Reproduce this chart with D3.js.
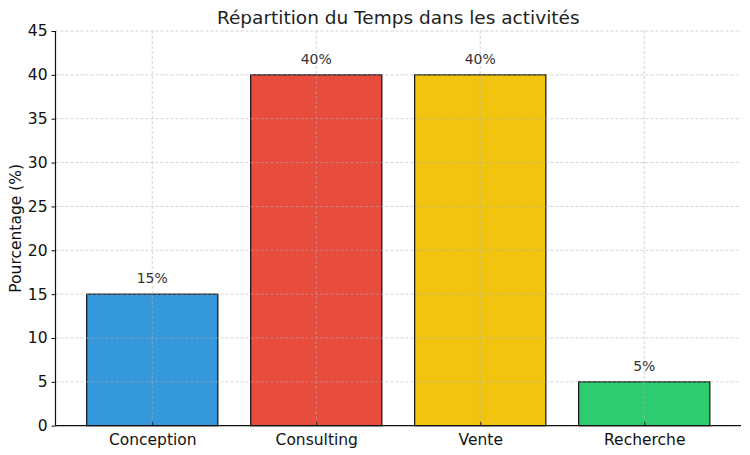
<!DOCTYPE html>
<html lang="fr">
<head>
<meta charset="UTF-8">
<title>Répartition du Temps</title>
<script src="https://cdn.jsdelivr.net/npm/d3@7"></script>
<style>
  body { margin: 0; background: #fff; }
  svg { font-family: "DejaVu Sans", sans-serif; }
</style>
</head>
<body>
<svg id="chart" width="750" height="455"></svg>
<script>
// data
const categories = ["Conception", "Consulting", "Vente", "Recherche"];
const values = [15, 40, 40, 5];
const colors = ["#3498db", "#e74c3c", "#f1c40f", "#2ecc71"];
const yTicks = [0, 5, 10, 15, 20, 25, 30, 35, 40, 45];

const svg = d3.select("#chart");
const mLeft = 55.5, mRight = 741, mTop = 31, mBottom = 425.7;

let x = d3.scaleLinear().domain([-0.59, 3.59]).range([mLeft, mRight]);
let y = d3.scaleLinear().domain([0, 45]).range([mBottom, mTop]);
const barW = x(0.8) - x(0);

// bars
svg.append("g").selectAll("rect").data(values)
  .enter().append("rect")
  .attr("x", (d, i) => x(i) - barW / 2)
  .attr("y", d => y(d))
  .attr("width", barW)
  .attr("height", d => y(0) - y(d))
  .attr("fill", (d, i) => colors[i])
  .attr("stroke", "#111")
  .attr("stroke-width", 1.2);

// grid on top of the bars
let grid = svg.append("g").attr("stroke", "#b0b0b0").attr("stroke-opacity", 0.7)
  .attr("stroke-width", 0.8).attr("stroke-dasharray", "3,2");
grid.selectAll(".h").data(yTicks).enter().append("line")
  .attr("x1", mLeft).attr("x2", mRight)
  .attr("y1", d => y(d)).attr("y2", d => y(d));
grid.selectAll(".v").data(categories).enter().append("line")
  .attr("x1", (d, i) => x(i)).attr("x2", (d, i) => x(i))
  .attr("y1", mTop).attr("y2", mBottom);

// value labels
svg.append("g").selectAll("text").data(values)
  .enter().append("text")
  .attr("x", (d, i) => x(i))
  .attr("y", d => y(d + 1) - 2)
  .attr("text-anchor", "middle")
  .attr("font-size", 14)
  .attr("fill", "#333")
  .text(d => d + "%");

// axes
let yaxis = d3.axisLeft(y).tickValues(yTicks).tickSize(4).tickPadding(4);
let ya = svg.append("g").attr("transform", `translate(${mLeft},0)`).call(yaxis);
ya.selectAll("text").attr("font-size", 15.5).attr("fill", "#111").attr("font-family", "DejaVu Sans");
ya.select(".domain").attr("d", `M0,${mTop}V${mBottom}`).attr("stroke", "#111").attr("stroke-width", 1.2);
ya.selectAll(".tick line").attr("stroke", "#111");

let xaxis = d3.axisBottom(x).tickValues(d3.range(categories.length))
  .tickFormat(i => categories[i]).tickSize(-4).tickPadding(8);
let xa = svg.append("g").attr("transform", `translate(0,${mBottom})`).call(xaxis);
xa.selectAll("text").attr("font-size", 15.5).attr("fill", "#111").attr("font-family", "DejaVu Sans");
xa.select(".domain").attr("d", `M${mLeft},0H${mRight}`).attr("stroke", "#111").attr("stroke-width", 1.2);
xa.selectAll(".tick line").attr("stroke", "#222");

// title and y label
svg.append("text")
  .attr("x", (mLeft + mRight) / 2).attr("y", 24)
  .attr("text-anchor", "middle")
  .attr("font-size", 18.5).attr("fill", "#222")
  .text("Répartition du Temps dans les activités");

svg.append("text")
  .attr("transform", `translate(21,${(mTop + mBottom) / 2}) rotate(-90)`)
  .attr("text-anchor", "middle")
  .attr("font-size", 15.5).attr("fill", "#111")
  .text("Pourcentage (%)");
</script>
</body>
</html>
